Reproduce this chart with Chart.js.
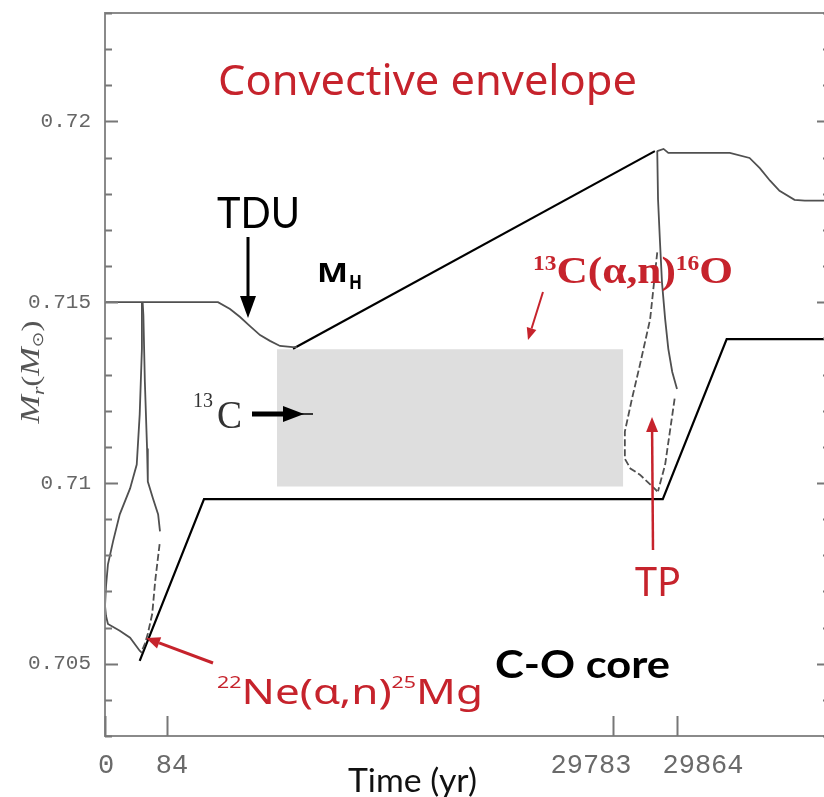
<!DOCTYPE html>
<html>
<head>
<meta charset="utf-8">
<script src="https://cdn.jsdelivr.net/npm/chart.js@4.4.1/dist/chart.umd.min.js"></script>
<style>
  html, body { margin: 0; padding: 0; background: #fff; overflow: hidden; }
  #wrap { position: relative; width: 836px; height: 797px; }
</style>
</head>
<body>
<div id="wrap"><canvas id="c" width="836" height="797"></canvas></div>
<script>
// ---- Axis ticks ----------------------------------------------------------
const timeTicks = [0, 84, 29783, 29864];          // yr
const massTicks = [0.705, 0.71, 0.715, 0.72];      // Msun, labelled ticks
const massMinorStep = 0.001;                       // Msun, minor ticks

// ---- Base of the convective envelope -------------------------------------
const envTimeA = [0, 50, 3480, 4280, 4950, 5610, 6280, 6940, 7610, 8470, 8740];
const envMassA = [0.7150, 0.7150, 0.7150, 0.71481, 0.71459, 0.71434, 0.71409, 0.71393, 0.71379, 0.71376, 0.71376];
const envTimeB = [29839, 29847, 29853, 29931, 29956, 29969, 29982, 29994, 30013, 30026, 30058];
const envMassB = [0.71918, 0.71924, 0.71913, 0.71913, 0.71899, 0.71871, 0.71836, 0.71808, 0.71783, 0.71781, 0.71781];

// ---- Pulse-driven convective shell, first thermal pulse -------------------
const p1OuterTime = [50, 50, 47, 43, 34, 20, 11, 4, 1.4, 0, 1.4, 4, 20, 34, 47, 50];
const p1OuterMass = [0.7150, 0.71371, 0.71189, 0.71051, 0.70985, 0.70913, 0.70839, 0.70775, 0.70715, 0.70660, 0.70632, 0.70610, 0.70591, 0.70572, 0.70536, 0.70530];
const p1InnerTime = [51, 52, 54, 57, 58, 65, 72, 74.5];
const p1InnerMass = [0.7150, 0.71464, 0.71280, 0.71095, 0.71004, 0.70957, 0.70913, 0.70866];
const p1TailTime  = [74, 68, 64, 58, 54, 50];
const p1TailMass  = [0.70831, 0.70729, 0.70638, 0.70583, 0.70555, 0.70536];

// ---- Second thermal pulse --------------------------------------------------
const p2InnerTime = [29839, 29840, 29842.5, 29845, 29849, 29853, 29858, 29864];
const p2InnerMass = [0.71919, 0.71784, 0.71665, 0.71555, 0.71453, 0.71371, 0.71307, 0.7126];
const p2TailTime  = [29861, 29855, 29849, 29840];
const p2TailMass  = [0.71233, 0.71142, 0.71051, 0.70977];
const p2OuterTime = [29839, 29830, 29817, 29807, 29798, 29798, 29805, 29817, 29830, 29839];
const p2OuterMass = [0.71638, 0.71453, 0.71326, 0.71233, 0.71142, 0.71067, 0.7104, 0.71023, 0.70996, 0.70977];

// ---- He-intershell base (C-O core) and H-burning shell (M_H) --------------
const coreTime = [47, 2548, 29846, 29927, 30058];
const coreMass = [0.70508, 0.70955, 0.70955, 0.71398, 0.71398];
const hShellTime = [8474, 29836];
const hShellMass = [0.71371, 0.71918];

// ---- 13C pocket -------------------------------------------------------------
const pocketTime = [7409, 29796];
const pocketTop = 0.7137;
const pocketBottom = 0.7099;

// ---- Broken time axis: two pulse windows around a compressed interpulse ----
const X_KNOT_T = [0, 84, 29783, 29864, 30058];
const X_KNOT_F = [0, 62 / 725, 508 / 725, 572 / 725, 1];

function interp(v, xs, ys) {
  let i = 1;
  while (i < xs.length - 1 && v > xs[i]) i++;
  return ys[i - 1] + (v - xs[i - 1]) * (ys[i] - ys[i - 1]) / (xs[i] - xs[i - 1]);
}

class BrokenTimeScale extends Chart.LinearScale {
  getPixelForValue(v) {
    return v == null ? NaN : this.getPixelForDecimal(interp(v, X_KNOT_T, X_KNOT_F));
  }
  getValueForPixel(p) {
    return interp(this.getDecimalForPixel(p), X_KNOT_F, X_KNOT_T);
  }
}
BrokenTimeScale.id = 'brokenTime';
BrokenTimeScale.defaults = Chart.LinearScale.defaults;
Chart.register(BrokenTimeScale);

// ---- Helpers ----------------------------------------------------------------
const pts = (ts, ms) => ts.map((t, i) => ({ x: t, y: ms[i] }));
const CURVE = '#505050';
function curve(ts, ms, extra) {
  return Object.assign({
    data: pts(ts, ms), borderColor: CURVE, borderWidth: 1.8,
    pointRadius: 0, fill: false, tension: 0
  }, extra || {});
}

function rich(ctx, parts, x, y, width, color, center) {
  let w = 0;
  for (const p of parts) { ctx.font = p[1]; w += ctx.measureText(p[0]).width; }
  const s = width ? width / w : 1;
  ctx.save();
  ctx.translate(x, y);
  ctx.scale(s, 1);
  ctx.fillStyle = color;
  ctx.textAlign = 'left';
  ctx.textBaseline = 'alphabetic';
  let cx = center ? -w / 2 : 0;
  for (const p of parts) {
    ctx.font = p[1];
    ctx.fillText(p[0], cx, -(p[2] || 0));
    cx += ctx.measureText(p[0]).width;
  }
  ctx.restore();
}

function arrow(ctx, x1, y1, x2, y2, color, lw, headLen, headHalf) {
  const a = Math.atan2(y2 - y1, x2 - x1);
  const bx = x2 - headLen * Math.cos(a), by = y2 - headLen * Math.sin(a);
  ctx.strokeStyle = color; ctx.fillStyle = color; ctx.lineWidth = lw;
  ctx.beginPath(); ctx.moveTo(x1, y1); ctx.lineTo(bx, by); ctx.stroke();
  ctx.beginPath();
  ctx.moveTo(x2, y2);
  ctx.lineTo(bx + headHalf * Math.sin(a), by - headHalf * Math.cos(a));
  ctx.lineTo(bx - headHalf * Math.sin(a), by + headHalf * Math.cos(a));
  ctx.closePath(); ctx.fill();
}

const RED = '#c6232c';

// Frame, inward ticks, time labels and annotations
const decorations = {
  id: 'decorations',
  afterDraw(chart) {
    const { ctx, chartArea: a, scales: { x, y } } = chart;
    ctx.save();

    // frame
    ctx.strokeStyle = '#8a8a8a';
    ctx.lineWidth = 2;
    ctx.strokeRect(a.left, a.top, a.right - a.left, a.bottom - a.top);

    // mass ticks on both sides, pointing inwards
    ctx.strokeStyle = '#777';
    ctx.lineWidth = 2;
    const n = Math.round((y.max - y.min) / massMinorStep);
    for (let i = 0; i <= n; i++) {
      const v = y.min + i * massMinorStep;
      const major = massTicks.some(m => Math.abs(m - v) < 1e-7);
      const len = major ? 13 : 7;
      const py = Math.round(y.getPixelForValue(v)) + 0.5;
      ctx.beginPath();
      ctx.moveTo(a.left, py); ctx.lineTo(a.left + len, py);
      ctx.moveTo(a.right, py); ctx.lineTo(a.right - len, py);
      ctx.stroke();
    }

    // time ticks, pointing upwards
    for (const t of timeTicks) {
      const px = Math.round(x.getPixelForValue(t)) + 0.5;
      ctx.beginPath(); ctx.moveTo(px, a.bottom); ctx.lineTo(px, a.bottom - 20); ctx.stroke();
    }

    // time tick labels, spread apart where the ticks crowd together
    const labelShift = [1, 5, -22, 26];
    ctx.fillStyle = '#6a6a6a';
    ctx.font = '27px "Liberation Mono"';
    ctx.textAlign = 'center';
    ctx.textBaseline = 'middle';
    timeTicks.forEach((t, i) => {
      ctx.fillText(String(t), x.getPixelForValue(t) + labelShift[i], 766);
    });

    // axis titles
    rich(ctx, [['Time (yr)', '32px Lato']], 348, 792, 129, '#111');
    ctx.save();
    ctx.translate(39, 372);
    ctx.rotate(-Math.PI / 2);
    rich(ctx, [
      ['M', 'italic 27px "Liberation Serif"'],
      ['r', 'italic 17px "Liberation Serif"', -5],
      ['(', '26px "Liberation Serif"'],
      ['M', 'italic 27px "Liberation Serif"'],
      ['\u2299', '15px "DejaVu Sans"', -4],
      [')', '26px "Liberation Serif"']
    ], 0, 0, 103, '#555', true);
    ctx.restore();

    // region labels
    rich(ctx, [['Convective envelope', '42px "Noto Sans"']], 218, 95, 419, RED);
    rich(ctx, [['C-O core', 'bold 39px Lato']], 495, 678, 175, '#000');

    // third dredge-up
    rich(ctx, [['TDU', '43px Lato']], 217, 228, 83, '#000');
    arrow(ctx, 248, 237, 248, 318, '#000', 3, 22, 8);

    // H-burning shell
    rich(ctx, [['M', 'bold 27px "Open Sans"']], 317, 282, 31, '#000');
    rich(ctx, [['H', 'bold 19px "Open Sans"']], 349, 289, 13, '#000');

    // 13C pocket
    rich(ctx, [['13', '20px "Liberation Serif"']], 193, 407, 20, '#333');
    rich(ctx, [['C', '40px "Liberation Serif"']], 217, 428, 25, '#333');
    ctx.strokeStyle = '#000'; ctx.fillStyle = '#000';
    ctx.lineWidth = 5;
    ctx.beginPath(); ctx.moveTo(252, 414); ctx.lineTo(288, 414); ctx.stroke();
    ctx.beginPath(); ctx.moveTo(283, 406); ctx.lineTo(304, 414); ctx.lineTo(283, 422); ctx.closePath(); ctx.fill();
    ctx.lineWidth = 1.5;
    ctx.beginPath(); ctx.moveTo(300, 414); ctx.lineTo(313, 414); ctx.stroke();

    // neutron sources
    rich(ctx, [
      ['13', 'bold 20px "Liberation Serif"', 13],
      ['C(\u03B1,n)', 'bold 37px "Liberation Serif"'],
      ['16', 'bold 20px "Liberation Serif"', 13],
      ['O', 'bold 37px "Liberation Serif"']
    ], 533, 283, 200, RED);
    arrow(ctx, 543, 292, 528, 340, RED, 2, 12, 5);

    rich(ctx, [
      ['22', '17px "Noto Sans"', 16],
      ['Ne(\u03B1,n)', '35px "Noto Sans"'],
      ['25', '17px "Noto Sans"', 16],
      ['Mg', '35px "Noto Sans"']
    ], 217, 704, 266, RED);
    arrow(ctx, 213, 663, 146, 638, RED, 3, 14, 6);

    // thermal pulse
    rich(ctx, [['TP', '40px "Noto Sans"']], 635, 596, 46, RED);
    arrow(ctx, 653, 550, 652, 417, RED, 2.5, 15, 6);

    ctx.restore();
  }
};

new Chart(document.getElementById('c'), {
  type: 'line',
  data: {
    datasets: [
      curve(envTimeA, envMassA),
      curve(envTimeB, envMassB),
      curve(p1OuterTime, p1OuterMass),
      curve(p1InnerTime, p1InnerMass),
      curve(p1TailTime, p1TailMass, { borderDash: [7, 3] }),
      curve(p2InnerTime, p2InnerMass),
      curve(p2TailTime, p2TailMass, { borderDash: [7, 3] }),
      curve(p2OuterTime, p2OuterMass, { borderDash: [7, 3] }),
      curve(coreTime, coreMass, { borderColor: '#000', borderWidth: 2.2 }),
      curve(hShellTime, hShellMass, { borderColor: '#000', borderWidth: 2.2 }),
      {
        data: pts(pocketTime, [pocketTop, pocketTop]),
        borderWidth: 0, borderColor: 'rgba(0,0,0,0)', pointRadius: 0,
        backgroundColor: '#dedede', fill: { value: pocketBottom }
      }
    ]
  },
  options: {
    responsive: false,
    devicePixelRatio: 1,
    animation: false,
    layout: { padding: { left: 0, right: 6, top: 13, bottom: 0 } },
    plugins: { legend: { display: false }, tooltip: { enabled: false } },
    scales: {
      x: {
        type: 'brokenTime',
        min: 0, max: 30058,
        grid: { display: false, drawTicks: false },
        border: { display: false },
        ticks: { display: false },
        afterBuildTicks: s => { s.ticks = timeTicks.map(v => ({ value: v })); },
        afterFit: s => { s.height = 61; s.paddingLeft = 0; s.paddingRight = 0; }
      },
      y: {
        type: 'linear',
        min: 0.703, max: 0.723,
        grid: { display: false, drawTicks: false },
        border: { display: false },
        afterBuildTicks: s => { s.ticks = massTicks.map(v => ({ value: v })); },
        ticks: {
          padding: 14,
          color: '#666',
          font: { family: 'Liberation Mono', size: 21 },
          callback: v => String(v)
        },
        afterFit: s => { s.width = 105; s.paddingTop = 0; s.paddingBottom = 0; }
      }
    }
  },
  plugins: [decorations]
});
</script>
</body>
</html>
